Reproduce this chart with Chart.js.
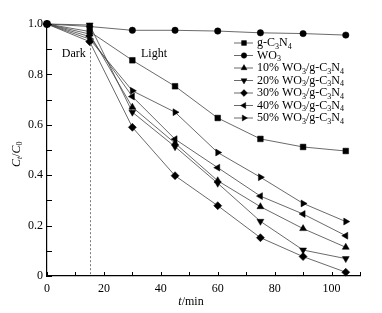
<!DOCTYPE html>
<html>
<head>
<meta charset="utf-8">
<script src="https://cdn.jsdelivr.net/npm/chart.js@4"></script>
<style>
  html, body { margin: 0; padding: 0; background: #fff; }
  #wrap { width: 382px; height: 313px; }
</style>
</head>
<body>
<div id="wrap"><canvas id="chart" width="382" height="313"></canvas></div>
<script>
// time (min)
const times = [0, 15, 30, 45, 60, 75, 90, 105];
// Ct/C0 per sample
const gC3N4 = [1.0, 0.97, 0.856, 0.753, 0.627, 0.544, 0.512, 0.496];
const WO3 = [1.0, 0.99, 0.975, 0.975, 0.972, 0.965, 0.962, 0.956];
const wo10 = [1.0, 0.96, 0.67, 0.527, 0.378, 0.275, 0.188, 0.114];
const wo20 = [1.0, 0.996, 0.65, 0.513, 0.368, 0.217, 0.103, 0.069];
const wo30 = [1.0, 0.93, 0.59, 0.398, 0.279, 0.152, 0.077, 0.015];
const wo40 = [1.0, 0.95, 0.712, 0.543, 0.43, 0.317, 0.246, 0.16];
const wo50 = [1.0, 0.94, 0.735, 0.65, 0.49, 0.392, 0.288, 0.216];

const labels = ["g-C3N4", "WO3", "10% WO3/g-C3N4", "20% WO3/g-C3N4",
  "30% WO3/g-C3N4", "40% WO3/g-C3N4", "50% WO3/g-C3N4"];
const xTicks = [0, 20, 40, 60, 80, 100];
const yTicks = [0, 0.2, 0.4, 0.6, 0.8, 1.0];
const darkTime = 15;

const SERIF = "'Liberation Serif', 'Times New Roman', serif";

const markers = [
  { style: "rect", rot: 0, r: 4 },
  { style: "circle", rot: 0, r: 3.2 },
  { style: "triangle", rot: 0, r: 4 },
  { style: "triangle", rot: 180, r: 4 },
  { style: "rectRot", rot: 0, r: 4 },
  { style: "triangle", rot: -90, r: 4 },
  { style: "triangle", rot: 90, r: 4 },
];

const series = [gC3N4, WO3, wo10, wo20, wo30, wo40, wo50];

const datasets = series.map((vals, i) => ({
  label: labels[i],
  data: times.map((t, j) => ({ x: t, y: vals[j] })),
  borderColor: "#444",
  borderWidth: 0.8,
  pointStyle: markers[i].style,
  pointRotation: markers[i].rot,
  pointRadius: markers[i].r,
  pointBackgroundColor: "#000",
  pointBorderColor: "#000",
  pointBorderWidth: 0.5,
  clip: false,
  fill: false,
  tension: 0,
}));

// text with digits after letters as subscripts
function drawChem(ctx, text, x, y, size) {
  const parts = text.match(/[A-Za-z][0-9]+|[^]/g);
  let cx = x;
  for (const p of parts) {
    if (/^[A-Za-z][0-9]+$/.test(p)) {
      ctx.font = size + "px " + SERIF;
      ctx.fillText(p[0], cx, y);
      cx += ctx.measureText(p[0]).width;
      ctx.font = Math.round(size * 0.7) + "px " + SERIF;
      ctx.fillText(p.slice(1), cx, y + size * 0.3);
      cx += ctx.measureText(p.slice(1)).width;
    } else {
      ctx.font = size + "px " + SERIF;
      ctx.fillText(p, cx, y);
      cx += ctx.measureText(p).width;
    }
  }
}

const extras = {
  id: "extras",
  afterDraw(chart) {
    const ctx = chart.ctx;
    const xs = chart.scales.x, ys = chart.scales.y;
    const area = chart.chartArea;
    ctx.save();
    ctx.fillStyle = "#000";
    ctx.strokeStyle = "#000";

    // inward ticks
    ctx.lineWidth = 1;
    for (let v = 0; v <= 110; v += 10) {
      const px = Math.round(xs.getPixelForValue(v)) + 0.5;
      ctx.beginPath();
      ctx.moveTo(px, area.bottom);
      ctx.lineTo(px, area.bottom - 4);
      ctx.stroke();
    }
    for (let k = 0; k <= 10; k++) {
      const py = Math.round(ys.getPixelForValue(k / 10)) + 0.5;
      ctx.beginPath();
      ctx.moveTo(area.left, py);
      ctx.lineTo(area.left + 5, py);
      ctx.stroke();
    }

    // dark / light divider
    const dx = Math.round(xs.getPixelForValue(darkTime)) + 0.5;
    ctx.strokeStyle = "#555";
    ctx.lineWidth = 0.8;
    ctx.setLineDash([2, 2]);
    ctx.beginPath();
    ctx.moveTo(dx, ys.getPixelForValue(0.92));
    ctx.lineTo(dx, area.bottom);
    ctx.stroke();
    ctx.setLineDash([]);

    ctx.font = "12px " + SERIF;
    ctx.textAlign = "center";
    ctx.textBaseline = "middle";
    ctx.fillText("Dark", xs.getPixelForValue(9.4), ys.getPixelForValue(0.88));
    ctx.fillText("Light", xs.getPixelForValue(37.6), ys.getPixelForValue(0.88));

    // axis titles
    ctx.textAlign = "left";
    ctx.font = "italic 12px " + SERIF;
    const tw = ctx.measureText("t").width;
    ctx.font = "12px " + SERIF;
    const mw = ctx.measureText("/min").width;
    let tx = 191 - (tw + mw) / 2;
    ctx.font = "italic 12px " + SERIF;
    ctx.fillText("t", tx, 302);
    ctx.font = "12px " + SERIF;
    ctx.fillText("/min", tx + tw, 302);

    ctx.save();
    ctx.translate(17, 150);
    ctx.rotate(-Math.PI / 2);
    let cx = -17;
    ctx.font = "italic 12px " + SERIF;
    ctx.fillText("C", cx, 0); cx += ctx.measureText("C").width;
    ctx.font = "italic 8px " + SERIF;
    ctx.fillText("t", cx, 3); cx += ctx.measureText("t").width;
    ctx.font = "12px " + SERIF;
    ctx.fillText("/", cx, 0); cx += ctx.measureText("/").width;
    ctx.font = "italic 12px " + SERIF;
    ctx.fillText("C", cx, 0); cx += ctx.measureText("C").width;
    ctx.font = "8px " + SERIF;
    ctx.fillText("0", cx, 3);
    ctx.restore();

    // legend
    const lx0 = 234, lx1 = 253, mx = 244, txt = 257;
    datasets.forEach((ds, i) => {
      const ly = 43 + i * 12.5;
      ctx.strokeStyle = "#444";
      ctx.lineWidth = 0.8;
      ctx.beginPath();
      ctx.moveTo(lx0, ly);
      ctx.lineTo(lx1, ly);
      ctx.stroke();
      if (Chart.helpers && Chart.helpers.drawPoint) {
        ctx.fillStyle = "#000";
        ctx.strokeStyle = "#000";
        ctx.lineWidth = 0.5;
        Chart.helpers.drawPoint(ctx, {
          pointStyle: ds.pointStyle,
          rotation: ds.pointRotation,
          radius: ds.pointRadius * 0.85,
          borderWidth: 0.5,
        }, mx, ly);
      }
      ctx.fillStyle = "#000";
      ctx.textBaseline = "middle";
      drawChem(ctx, ds.label, txt, ly, 12);
    });
    ctx.restore();
  },
};

new Chart(document.getElementById("chart").getContext("2d"), {
  type: "line",
  data: { datasets: datasets },
  options: {
    responsive: false,
    animation: false,
    layout: { padding: { left: 0, top: 24, right: 22, bottom: 0 } },
    plugins: { legend: { display: false }, tooltip: { enabled: false } },
    scales: {
      x: {
        type: "linear",
        min: 0,
        max: 110,
        grid: { display: false, drawTicks: false },
        border: { display: true, color: "#000", width: 1.2 },
        afterBuildTicks: (s) => { s.ticks = xTicks.map((v) => ({ value: v })); },
        afterFit: (s) => { s.height = 37; },
        ticks: {
          padding: 6,
          color: "#000",
          font: { family: SERIF, size: 12 },
          callback: (v) => String(v),
        },
      },
      y: {
        type: "linear",
        min: 0,
        max: 1.0,
        grid: { display: false, drawTicks: false },
        border: { display: true, color: "#000", width: 1.2 },
        afterBuildTicks: (s) => { s.ticks = yTicks.map((v) => ({ value: v })); },
        afterFit: (s) => { s.width = 47; },
        ticks: {
          padding: 4,
          color: "#000",
          font: { family: SERIF, size: 12 },
          callback: (v) => (v === 0 ? "0" : v.toFixed(1)),
        },
      },
    },
  },
  plugins: [extras],
});
</script>
</body>
</html>
